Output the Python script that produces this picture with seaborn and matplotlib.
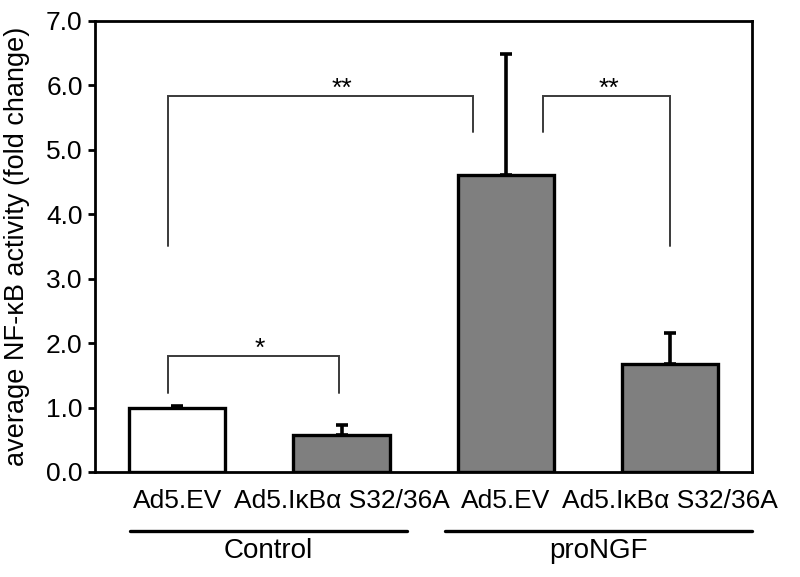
import numpy as np
import pandas as pd
import matplotlib
matplotlib.use("Agg")
import matplotlib.pyplot as plt
import matplotlib.transforms as mtransforms
import seaborn as sns

# data
conditions = ["ctrl_ev", "ctrl_mut", "prongf_ev", "prongf_mut"]
tick_labels = ["Ad5.EV", "Ad5.I\u03baB\u03b1 S32/36A", "Ad5.EV", "Ad5.I\u03baB\u03b1 S32/36A"]
means = [1.0, 0.58, 4.6, 1.67]
sem = [0.02, 0.15, 1.88, 0.49]
bar_colors = ["white", "#7f7f7f", "#7f7f7f", "#7f7f7f"]
groups = ["Control", "proNGF"]

sns.set_style("white")
plt.rcParams["font.family"] = ["Liberation Sans", "DejaVu Sans"]
plt.rcParams.update({"text.color": "black", "axes.labelcolor": "black",
                     "xtick.color": "black", "ytick.color": "black"})

df = pd.DataFrame({"cond": conditions, "mean": means})

fig = plt.figure(figsize=(8, 5.77), dpi=100)
ax = fig.add_axes([0.119, 0.182, 0.821, 0.782])

sns.barplot(data=df, x="cond", y="mean", hue="cond", palette=bar_colors,
            order=conditions, hue_order=conditions, legend=False, errorbar=None,
            width=0.585, edgecolor="black", linewidth=2.4, saturation=1, ax=ax)

# upper error bars only
xpos = np.arange(len(conditions))
ax.errorbar(xpos, means, yerr=[np.zeros(len(sem)), sem], fmt="none",
            ecolor="black", elinewidth=2.6, capsize=4.3, capthick=2.6, zorder=1)

ax.set_xlim(-0.5, 3.5)
ax.set_ylim(0, 7)
ax.set_yticks(np.arange(0, 7.1, 1.0))
ax.set_yticklabels([f"{v:.1f}" for v in np.arange(0, 7.1, 1.0)], fontsize=19)
ax.set_xticks(xpos)
ax.set_xticklabels(tick_labels, fontsize=19)
ax.tick_params(axis="x", length=0, pad=12)
ax.tick_params(axis="y", direction="out", length=5, width=2, pad=4, left=True)
ax.set_xlabel("")
ax.set_ylabel("average NF-\u03baB activity (fold change)", fontsize=19.5)
ax.yaxis.set_label_coords(-0.099, 0.5)

for s in ax.spines.values():
    s.set_linewidth(2.0)
    s.set_color("black")


def bracket(x1, x2, y, y1_end, y2_end, text, xt):
    ax.plot([x1, x1, x2, x2], [y1_end, y, y, y2_end], color="#3a3a3a", lw=1.4,
            solid_joinstyle="miter")
    ax.text(xt, y, text, ha="center", va="baseline", fontsize=19, color="black")


bracket(0 - 0.055, 2 - 0.2, 5.84, 3.5, 5.28, "**", 1.0)
bracket(2 + 0.23, 3.0, 5.84, 5.28, 3.5, "**", 2.63)
bracket(0 - 0.055, 1 - 0.015, 1.80, 1.23, 1.23, "*", 0.5)

# group underlines and labels
trans = mtransforms.blended_transform_factory(ax.transData, ax.transAxes)
spans = [(0 - 0.29, 1 + 0.4), (2 - 0.37, 3 + 0.5)]
for name, (a, b) in zip(groups, spans):
    ax.plot([a, b], [-0.130, -0.130], color="black", lw=2.4, transform=trans, clip_on=False)
    ax.text((a + b) / 2, -0.175, name, ha="center", va="center", fontsize=20, transform=trans)

plt.savefig("out.png", dpi=100)
plt.close()
